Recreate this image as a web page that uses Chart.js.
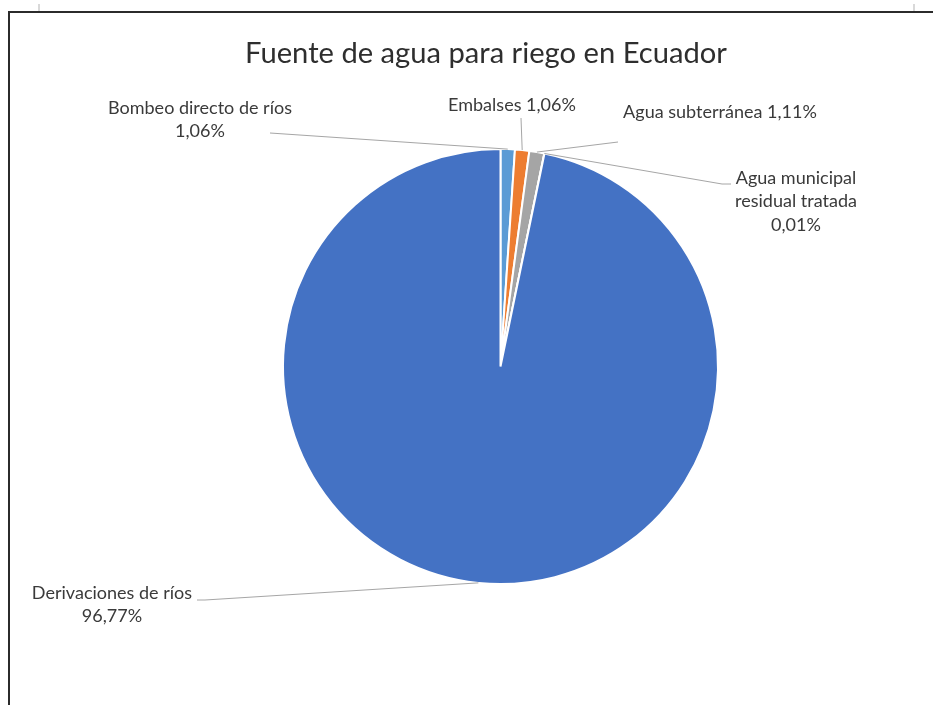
<!DOCTYPE html>
<html>
<head>
<meta charset="utf-8">
<script src="https://cdn.jsdelivr.net/npm/chart.js@4/dist/chart.umd.min.js"></script>
<style>
  html, body { margin: 0; padding: 0; background: #ffffff; }
  #wrap { width: 933px; height: 705px; }
</style>
</head>
<body>
<div id="wrap"><canvas id="c" width="933" height="705"></canvas></div>
<script>
// ---- Data ----
const chartTitle = 'Fuente de agua para riego en Ecuador';
const categories = ['Bombeo directo de ríos', 'Embalses', 'Agua subterránea', 'Agua municipal residual tratada', 'Derivaciones de ríos'];
const percentValues = [1.06, 1.06, 1.11, 0.01, 96.77];
const sliceColors = ['#5B9BD5', '#ED7D31', '#A5A5A5', '#FFC000', '#4472C4'];

function fmtPct(v) { return v.toFixed(2).replace('.', ',') + '%'; }

// ---- Label layout (positions only) ----
const FONT_FAMILY = 'Lato, "Open Sans", sans-serif';
const labelLayout = [
  { x: 200, y: 108, words: [4, 1],    leader: [[270, 133]] },
  { x: 512, y: 105, words: [2],       leader: [[521, 118]] },
  { x: 720, y: 112, words: [3],       leader: [[618, 142]] },
  { x: 796, y: 178, words: [2, 2, 1], leader: [[731, 184], [722, 184]] },
  { x: 112, y: 593, words: [3, 1],    leader: [[197, 600], [205, 600]] }
];

function fitSize(ctx, text, weight, target) {
  ctx.font = weight + ' 100px ' + FONT_FAMILY;
  return 100 * target / ctx.measureText(text).width;
}

const decorPlugin = {
  id: 'decor',
  beforeDraw(chart) {
    const ctx = chart.ctx;
    ctx.save();
    ctx.fillStyle = '#ffffff';
    ctx.fillRect(0, 0, chart.width, chart.height);
    // frame (screenshot border)
    ctx.fillStyle = '#2b2b2b';
    ctx.fillRect(8, 11, chart.width - 8, 2);
    ctx.fillRect(8, 11, 2, chart.height - 11);
    ctx.fillStyle = '#d9d9d9';
    ctx.fillRect(38, 4, 2, 7);
    ctx.fillRect(913, 4, 2, 7);
    ctx.restore();
  },
  afterDraw(chart) {
    const ctx = chart.ctx;
    ctx.save();
    // title
    const ts = fitSize(ctx, chartTitle, 'normal', 482);
    ctx.font = 'normal ' + ts.toFixed(2) + 'px ' + FONT_FAMILY;
    ctx.fillStyle = '#2e2e2e';
    ctx.textAlign = 'center';
    ctx.textBaseline = 'alphabetic';
    ctx.fillText(chartTitle, 486, 63);

    // data labels + leader lines
    const meta = chart.getDatasetMeta(0);
    const ls = fitSize(ctx, 'Agua subterránea 1,11%', 'normal', 194);
    const lineH = 23.5;
    meta.data.forEach((arc, i) => {
      const p = arc.getProps(['x', 'y', 'startAngle', 'endAngle', 'outerRadius'], true);
      const mid = (p.startAngle + p.endAngle) / 2;
      const ax = p.x + Math.cos(mid) * p.outerRadius;
      const ay = p.y + Math.sin(mid) * p.outerRadius;
      const L = labelLayout[i];
      // leader
      ctx.strokeStyle = '#a6a6a6';
      ctx.lineWidth = 1;
      ctx.beginPath();
      ctx.moveTo(L.leader[0][0], L.leader[0][1]);
      for (let k = 1; k < L.leader.length; k++) ctx.lineTo(L.leader[k][0], L.leader[k][1]);
      ctx.lineTo(ax, ay);
      ctx.stroke();
      // text
      const words = (categories[i] + ' ' + fmtPct(percentValues[i])).split(' ');
      let idx = 0;
      ctx.font = 'normal ' + ls.toFixed(2) + 'px ' + FONT_FAMILY;
      ctx.fillStyle = '#3a3a3a';
      ctx.textAlign = 'center';
      ctx.textBaseline = 'middle';
      L.words.forEach((n, li) => {
        const line = words.slice(idx, idx + n).join(' ');
        idx += n;
        ctx.fillText(line, L.x, L.y + li * lineH);
      });
    });
    ctx.restore();
  }
};

new Chart(document.getElementById('c'), {
  type: 'pie',
  data: {
    labels: categories,
    datasets: [{
      data: percentValues,
      backgroundColor: sliceColors,
      borderColor: '#ffffff',
      borderWidth: 2
    }]
  },
  options: {
    responsive: false,
    devicePixelRatio: 1,
    animation: false,
    layout: { padding: { left: 282, right: 214, top: 148, bottom: 120 } },
    plugins: {
      legend: { display: false },
      title: { display: false },
      tooltip: { enabled: false }
    }
  },
  plugins: [decorPlugin]
});
</script>
</body>
</html>
